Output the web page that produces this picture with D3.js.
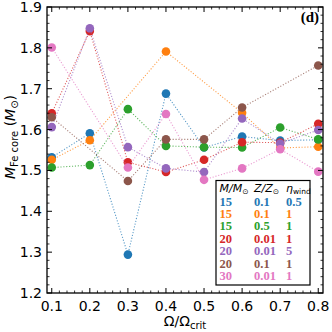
<!DOCTYPE html>
<html><head><meta charset="utf-8">
<script src="https://cdn.jsdelivr.net/npm/d3@7"></script>
<style>body{margin:0;background:#fff}svg{display:block}</style>
</head><body>
<script>
const omega = [0.1,0.2,0.3,0.4,0.5,0.6,0.7,0.8];
const xTicks = [0.1,0.2,0.3,0.4,0.5,0.6,0.7,0.8];
const yTicks = [1.2,1.3,1.4,1.5,1.6,1.7,1.8,1.9];
const seriesMass = ["15","15","15","20","20","20","30"];
const seriesZ = ["0.1","0.1","0.5","0.01","0.01","0.1","0.01"];
const seriesEta = ["0.5","1","1","1","5","1","1"];
const seriesColors = ["#1f77b4","#ff7f0e","#2ca02c","#d62728","#9467bd","#8c564b","#e377c2"];
const blue   = [1.532,1.591,1.294,1.688,1.556,1.583,1.573,1.575];
const orange = [1.526,1.574,null,1.791,null,1.641,1.555,1.558];
const green  = [1.507,1.513,1.650,1.560,1.557,1.556,1.605,1.576];
const red    = [1.640,1.841,1.520,1.496,1.526,1.569,1.568,1.614];
const purple = [1.606,1.848,1.557,1.505,1.496,1.627,1.566,1.599];
const brown  = [1.630,null,1.474,1.576,1.576,1.654,null,1.757];
const pink   = [1.801,null,1.507,1.638,1.477,1.505,1.552,1.497];
const seriesValues = [blue,orange,green,red,purple,brown,pink];

const W=332,H=332;
const m={l:47,r:9,t:7,b:39};
const svg=d3.select("body").append("svg").attr("width",W).attr("height",H);
const x=d3.scaleLinear().domain([0.0875,0.8125]).range([m.l,W-m.r]);
const y=d3.scaleLinear().domain([1.2,1.9]).range([H-m.b,m.t]);
const font="DejaVu Sans, sans-serif";

const xMinor=d3.range(0.1,0.8001,0.02).filter(v=>Math.abs(Math.round(v*10)-v*10)>1e-6);
const yMinor=d3.range(1.2,1.9001,0.02).filter(v=>Math.abs(Math.round(v*10)-v*10)>1e-6);
const g=svg.append("g");
function axes(){
  const tk=g.append("g").attr("stroke","#000");
  xTicks.forEach(v=>{
    tk.append("line").attr("x1",x(v)).attr("x2",x(v)).attr("y1",y(1.2)).attr("y2",y(1.2)-5).attr("stroke-width",1);
    tk.append("line").attr("x1",x(v)).attr("x2",x(v)).attr("y1",y(1.9)).attr("y2",y(1.9)+5).attr("stroke-width",1);
  });
  xMinor.forEach(v=>{
    tk.append("line").attr("x1",x(v)).attr("x2",x(v)).attr("y1",y(1.2)).attr("y2",y(1.2)-2.5).attr("stroke-width",0.8);
    tk.append("line").attr("x1",x(v)).attr("x2",x(v)).attr("y1",y(1.9)).attr("y2",y(1.9)+2.5).attr("stroke-width",0.8);
  });
  yTicks.forEach(v=>{
    tk.append("line").attr("y1",y(v)).attr("y2",y(v)).attr("x1",x.range()[0]).attr("x2",x.range()[0]+5).attr("stroke-width",1);
    tk.append("line").attr("y1",y(v)).attr("y2",y(v)).attr("x1",x.range()[1]).attr("x2",x.range()[1]-5).attr("stroke-width",1);
  });
  yMinor.forEach(v=>{
    tk.append("line").attr("y1",y(v)).attr("y2",y(v)).attr("x1",x.range()[0]).attr("x2",x.range()[0]+2.5).attr("stroke-width",0.8);
    tk.append("line").attr("y1",y(v)).attr("y2",y(v)).attr("x1",x.range()[1]).attr("x2",x.range()[1]-2.5).attr("stroke-width",0.8);
  });
  g.append("g").selectAll("text").data(xTicks).join("text")
    .attr("x",d=>x(d)).attr("y",H-m.b+18).attr("text-anchor","middle")
    .attr("font-family",font).attr("font-size",14).text(d=>d.toFixed(1));
  g.append("g").selectAll("text").data(yTicks).join("text")
    .attr("x",m.l-5).attr("y",d=>y(d)+5).attr("text-anchor","end")
    .attr("font-family",font).attr("font-size",14).text(d=>d.toFixed(1));
}

const line=d3.line().x(d=>x(d[0])).y(d=>y(d[1]));
seriesValues.forEach((vals,i)=>{
  const pts=omega.map((o,j)=>[o,vals[j]]).filter(d=>d[1]!==null);
  g.append("path").datum(pts).attr("d",line).attr("fill","none")
    .attr("stroke",seriesColors[i]).attr("stroke-width",1.1).attr("stroke-dasharray","1.1,1.8").attr("opacity",0.75);
  g.append("g").selectAll("circle").data(pts).join("circle")
    .attr("cx",d=>x(d[0])).attr("cy",d=>y(d[1])).attr("r",4.3).attr("fill",seriesColors[i]);
});
axes();
g.append("rect").attr("x",m.l).attr("y",m.t).attr("width",W-m.l-m.r).attr("height",H-m.t-m.b)
  .attr("fill","none").attr("stroke","#000").attr("stroke-width",1.3);

svg.append("text").attr("x",319).attr("y",22).attr("text-anchor","end")
  .attr("font-family","Liberation Serif, serif").attr("font-weight","bold").attr("font-size",15).text("(d)");

const xl=svg.append("text").attr("x",(m.l+W-m.r)/2).attr("y",326).attr("text-anchor","middle")
  .attr("font-family",font).attr("font-size",14);
xl.append("tspan").text("Ω/Ω");
xl.append("tspan").attr("font-size",10).attr("dy",3).text("crit");

const yl=svg.append("text").attr("transform","translate(15,137) rotate(-90)").attr("text-anchor","middle")
  .attr("font-family",font).attr("font-size",14);
yl.append("tspan").attr("font-style","italic").text("M");
yl.append("tspan").attr("font-size",10).attr("dy",3).text("Fe core");
yl.append("tspan").attr("dy",-3).text(" (");
yl.append("tspan").attr("font-style","italic").text("M");
yl.append("tspan").attr("font-size",10).attr("dy",3).text("⊙");
yl.append("tspan").attr("dy",-3).text(")");

// legend
const lg=svg.append("g");
lg.append("rect").attr("x",216).attr("y",180.5).attr("width",94).attr("height",104.5)
  .attr("fill","#fff").attr("stroke","#000").attr("stroke-width",1.2);
const hdr=[[219.5,"M/M","⊙"],[254,"Z/Z","⊙"]];
hdr.forEach(h=>{
  const t=lg.append("text").attr("x",h[0]).attr("y",192).attr("font-family",font).attr("font-size",11);
  t.append("tspan").attr("font-style","italic").text(h[1]);
  t.append("tspan").attr("font-size",7.5).attr("dy",2).text(h[2]);
});
const et=lg.append("text").attr("x",286).attr("y",192).attr("font-family",font).attr("font-size",11);
et.append("tspan").attr("font-style","italic").text("η");
et.append("tspan").attr("font-size",7.5).attr("dy",2).text("wind");
const cols=[seriesMass,seriesZ,seriesEta];
const colX=[219.5,254,286];
cols.forEach((col,ci)=>{
  lg.append("g").selectAll("text").data(col).join("text")
    .attr("x",colX[ci]).attr("y",(d,i)=>205.5+i*12.4)
    .attr("font-family","Liberation Serif, serif").attr("font-weight","bold").attr("font-size",12.5)
    .attr("fill",(d,i)=>seriesColors[i]).text(d=>d);
});
</script>
</body></html>
